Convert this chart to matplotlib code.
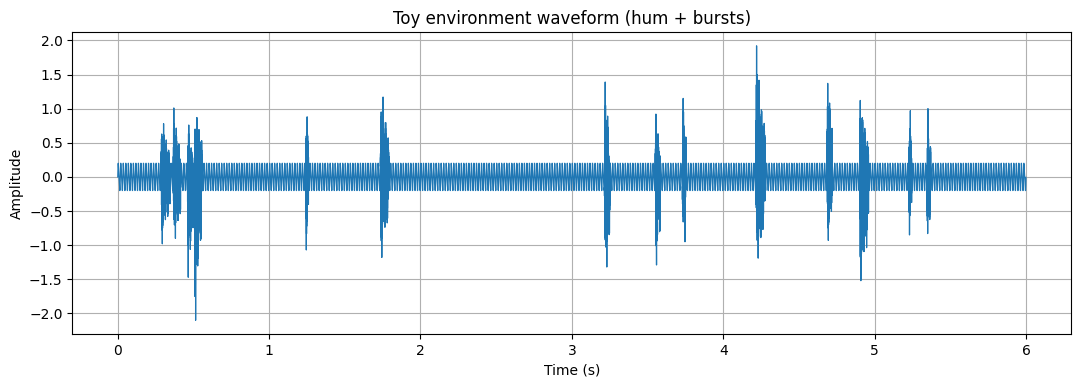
import numpy as np
import matplotlib.pyplot as plt

# burst parameters
burst_start = [0.285, 0.365, 0.46, 0.505, 1.24, 1.735, 3.215, 3.55, 3.73, 4.215, 4.685, 4.90, 5.225, 5.345]
burst_len = [0.06, 0.05, 0.04, 0.05, 0.02, 0.055, 0.035, 0.035, 0.025, 0.06, 0.035, 0.06, 0.02, 0.025]
burst_up = [0.78, 1.01, 0.76, 0.87, 0.88, 1.17, 1.39, 0.92, 1.15, 1.92, 1.37, 1.12, 0.97, 1.00]
burst_down = [-0.98, -0.90, -1.47, -2.10, -1.07, -1.18, -1.32, -1.29, -0.95, -1.19, -0.93, -1.52, -0.85, -0.83]

sr = 16000
duration = 6.0
hum_freq = 60
hum_amp = 0.2

t = np.arange(int(sr * duration)) / sr
y = np.sin(2 * np.pi * hum_freq * t) + 0.3 * np.sin(2 * np.pi * 2 * hum_freq * t)
y *= hum_amp / np.abs(y).max()

for t0, dur, up, down in zip(burst_start, burst_len, burst_up, burst_down):
    m = (t >= t0) & (t < t0 + dur)
    tt = t[m] - t0
    env = np.minimum(tt / 0.005, 1.0) * np.exp(-tt / dur)
    osc = (0.6 * np.sin(2 * np.pi * 1370 * tt) + 0.4 * np.sin(2 * np.pi * 1910 * tt)
           * np.sin(2 * np.pi * 37 * tt)) * env
    seg = y[m] + 0.9 * osc
    seg[np.argmax(seg)] += 0.15
    seg[np.argmin(seg)] -= 0.15
    pos = seg > 0
    seg[pos] *= up / seg.max()
    seg[~pos] *= down / seg.min()
    y[m] = seg

fig, ax = plt.subplots(figsize=(10.8, 3.87), dpi=100)
ax.plot(t, y, linewidth=0.9)
ax.set_title("Toy environment waveform (hum + bursts)")
ax.set_xlabel("Time (s)")
ax.set_ylabel("Amplitude")
ax.grid(True)
fig.subplots_adjust(left=0.067, right=0.992, top=0.917, bottom=0.137)
fig.savefig("out.png")
